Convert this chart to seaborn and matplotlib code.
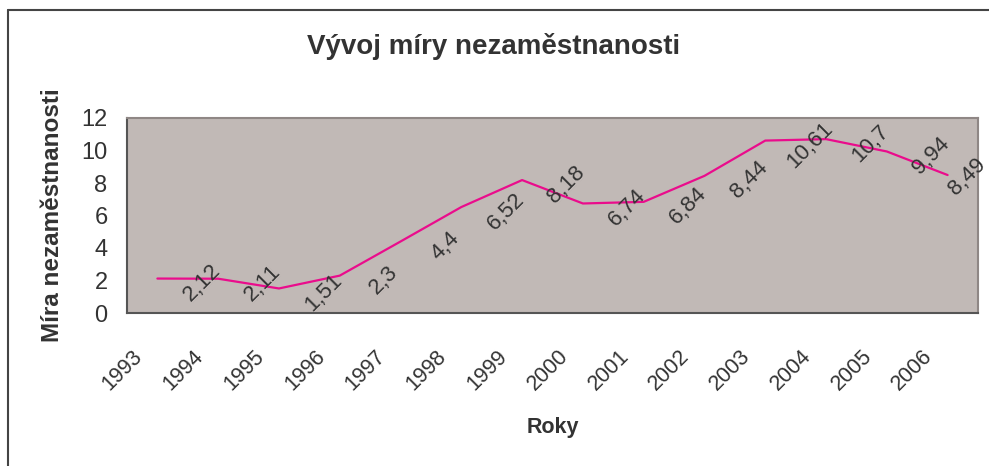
import matplotlib
matplotlib.use("Agg")
import matplotlib.pyplot as plt
import seaborn as sns
import pandas as pd
from matplotlib.transforms import ScaledTranslation
from matplotlib.lines import Line2D

# ---- data ----
years = [1993, 1994, 1995, 1996, 1997, 1998, 1999, 2000, 2001, 2002, 2003, 2004, 2005, 2006]
rate = [2.12, 2.11, 1.51, 2.3, 4.4, 6.52, 8.18, 6.74, 6.84, 8.44, 10.61, 10.7, 9.94, 8.49]
title = "Vývoj míry nezaměstnanosti"
xlabel = "Roky"
ylabel = "Míra nezaměstnanosti"

df = pd.DataFrame({"rok": years, "mira": rate})

sns.set_style("white")
plt.rcParams["font.family"] = ["Liberation Sans", "DejaVu Sans"]

TXT = "#333333"
LINE = "#ea0c8c"
BG = "#c1b9b6"

fig = plt.figure(figsize=(9.89, 4.66), dpi=100)
ax = fig.add_axes([127 / 989, 1 - 313 / 466, (978 - 127) / 989, (313 - 118) / 466])
ax.set_facecolor(BG)

sns.lineplot(data=df, x="rok", y="mira", ax=ax, color=LINE, linewidth=1.6)

ax.set_xlim(years[0] - 0.5, years[-1] + 0.5)
ax.set_ylim(0, 12)
ax.set_yticks(range(0, 13, 2))

# category boundaries as major ticks, centers as minor ticks with labels
ax.set_xticks([y - 0.5 for y in years] + [years[-1] + 0.5])
ax.set_xticklabels([])
ax.set_xticks(years, minor=True)
ax.set_xticklabels([str(y) for y in years], minor=True, rotation=45,
                   ha="right", va="center", rotation_mode="anchor",
                   fontsize=15.5, color=TXT)
ax.tick_params(axis="x", which="minor", length=0, pad=29)
ax.tick_params(axis="x", which="major", length=6, width=1, color="#444444", direction="out")
ax.tick_params(axis="y", which="major", length=6, width=1, color="#444444",
               direction="out", labelsize=17, labelcolor=TXT, pad=8)
offset = ScaledTranslation(-13 / 72, 0, fig.dpi_scale_trans)
for lab in ax.get_xticklabels(minor=True):
    lab.set_transform(lab.get_transform() + offset)

for side in ["left", "bottom"]:
    ax.spines[side].set_color("#555555")
    ax.spines[side].set_linewidth(1.5)
for side in ["top", "right"]:
    ax.spines[side].set_color("#8f8785")
    ax.spines[side].set_linewidth(1.5)

# data labels
for i, (x, v) in enumerate(zip(years, rate)):
    lbl = f"{v:g}".replace(".", ",")
    dx, dy = (32, -3) if i < len(years) - 1 else (14, -1.5)
    ax.annotate(lbl, (x, v), xytext=(dx, dy), textcoords="offset points",
                ha="center", va="center", rotation=45, fontsize=16, color=TXT)

ax.set_xlabel(xlabel, fontsize=15.5, fontweight="bold", color=TXT, labelpad=16)
ax.set_ylabel(ylabel, fontsize=17.5, fontweight="bold", color=TXT)
ax.yaxis.set_label_coords(-(127 - 64) / (978 - 127), 0.5)
fig.text(494 / 989, 1 - 46 / 466, title, ha="center", va="center",
         fontsize=20, fontweight="bold", color=TXT)

# outer chart border (top and left visible)
fig.add_artist(Line2D([8 / 989, 1.0], [1 - 10 / 466, 1 - 10 / 466], color="#444444", lw=1.5))
fig.add_artist(Line2D([8 / 989, 8 / 989], [0.0, 1 - 10 / 466], color="#444444", lw=1.5))

fig.savefig("out.png", dpi=100)
